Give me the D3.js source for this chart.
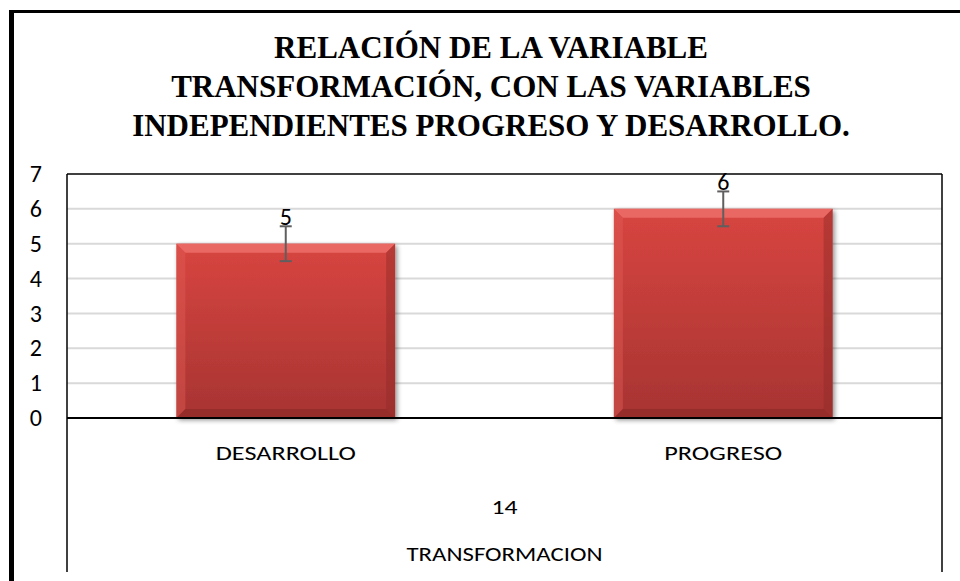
<!DOCTYPE html>
<html>
<head>
<meta charset="utf-8">
<script src="https://cdn.jsdelivr.net/npm/d3@7"></script>
<style>
  body { margin: 0; background: #fff; }
  svg { display: block; }
  .title { font-family: "Liberation Serif", Tinos, "Times New Roman", serif; }
</style>
</head>
<body>
<script>
// data
var categories = ["DESARROLLO", "PROGRESO"];
var values = [5, 6];
var errors = [0.5, 0.5];
var yTicks = [0, 1, 2, 3, 4, 5, 6, 7];
var groupLabel = "14";
var axisTitle = "TRANSFORMACION";
var titleLines = ["RELACIÓN DE LA VARIABLE",
                  "TRANSFORMACIÓN, CON LAS VARIABLES",
                  "INDEPENDIENTES PROGRESO Y DESARROLLO."];

var svgWidth = 960;
var svgHeight = 581;
var plotLeft = 67, plotRight = 942, plotTop = 174, plotBottom = 418;
var labelFont = "Carlito, Calibri, 'Open Sans', sans-serif";

var svg = d3.select("body").append("svg")
    .attr("width", svgWidth)
    .attr("height", svgHeight);

var defs = svg.append("defs");
var grad = defs.append("linearGradient")
    .attr("id", "barGrad")
    .attr("x1", 0).attr("y1", 0).attr("x2", 0).attr("y2", 1);
grad.append("stop").attr("offset", "0%").attr("stop-color", "#d84540");
grad.append("stop").attr("offset", "100%").attr("stop-color", "#a73432");

var shadow = defs.append("filter").attr("id", "shadow")
    .attr("x", "-10%").attr("y", "-10%").attr("width", "125%").attr("height", "125%");
shadow.append("feGaussianBlur").attr("in", "SourceAlpha").attr("stdDeviation", 2.5);
shadow.append("feOffset").attr("dx", 2).attr("dy", 2).attr("result", "b");
shadow.append("feComponentTransfer").append("feFuncA").attr("type", "linear").attr("slope", 0.45);
var merge = shadow.append("feMerge");
merge.append("feMergeNode");
merge.append("feMergeNode").attr("in", "SourceGraphic");

// outer chart border (only left and top visible)
svg.append("line")
    .attr("x1", 11.5).attr("y1", 10).attr("x2", 11.5).attr("y2", svgHeight)
    .attr("stroke", "black").attr("stroke-width", 5);
svg.append("line")
    .attr("x1", 9).attr("y1", 11.5).attr("x2", svgWidth).attr("y2", 11.5)
    .attr("stroke", "black").attr("stroke-width", 3);

// title
svg.append("text")
    .attr("class", "title")
    .attr("x", 491)
    .attr("y", 58)
    .attr("text-anchor", "middle")
    .attr("font-weight", "bold")
    .attr("font-size", 31)
    .selectAll("tspan")
    .data(titleLines)
    .enter().append("tspan")
    .attr("x", 491)
    .attr("dy", function(d, i) { return i == 0 ? 0 : 39; })
    .text(function(d) { return d; });

// scales
var xScale = d3.scaleBand()
    .domain(categories)
    .range([plotLeft, plotRight])
    .paddingInner(0.5)
    .paddingOuter(0.25);
var yScale = d3.scaleLinear()
    .domain([0, 7])
    .range([plotBottom, plotTop]);

// gridlines
svg.append("g")
    .selectAll("line")
    .data(yTicks.filter(function(d) { return d > 0 && d < 7; }))
    .enter().append("line")
    .attr("x1", plotLeft).attr("x2", plotRight)
    .attr("y1", function(d) { return yScale(d); })
    .attr("y2", function(d) { return yScale(d); })
    .attr("stroke", "#d9d9d9")
    .attr("stroke-width", 2);

// y axis
var y_axis = d3.axisLeft(yScale).tickValues(yTicks).tickFormat(d3.format("d")).tickSize(0).tickPadding(0);
var yg = svg.append("g")
    .attr("transform", "translate(42, 0)")
    .call(y_axis);
yg.select(".domain").remove();
yg.selectAll("text")
    .attr("font-family", labelFont)
    .attr("font-size", 24)
    .attr("fill", "black");

// bars
var bars = svg.append("g").selectAll("g")
    .data(values)
    .enter().append("g");

bars.append("rect")
    .attr("x", function(d, i) { return xScale(categories[i]); })
    .attr("y", function(d) { return yScale(d); })
    .attr("width", xScale.bandwidth())
    .attr("height", function(d) { return yScale(0) - yScale(d); })
    .attr("fill", "url(#barGrad)")
    .attr("filter", "url(#shadow)");

// bevel edges
var bev = 9;
function bevel(d, i, side) {
    var x0 = xScale(categories[i]), x1 = x0 + xScale.bandwidth();
    var y0 = yScale(d), y1 = yScale(0);
    var p;
    if (side == "top") p = [[x0, y0], [x1, y0], [x1 - bev, y0 + bev], [x0 + bev, y0 + bev]];
    if (side == "left") p = [[x0, y0], [x0 + bev, y0 + bev], [x0 + bev, y1 - bev], [x0, y1]];
    if (side == "right") p = [[x1, y0], [x1 - bev, y0 + bev], [x1 - bev, y1 - bev], [x1, y1]];
    if (side == "bottom") p = [[x0, y1], [x0 + bev, y1 - bev], [x1 - bev, y1 - bev], [x1, y1]];
    return p.map(function(q) { return q.join(","); }).join(" ");
}
var bevelStyle = [["top", "#ec6c67", 0.9], ["left", "#e15a55", 0.45],
                  ["right", "#8e2a28", 0.45], ["bottom", "#8a2826", 0.6]];
bevelStyle.forEach(function(s) {
    bars.append("polygon")
        .attr("points", function(d, i) { return bevel(d, i, s[0]); })
        .attr("fill", s[1])
        .attr("opacity", s[2]);
});

// error bars
var errColor = "#5f5f5f";
bars.append("line")
    .attr("x1", function(d, i) { return xScale(categories[i]) + xScale.bandwidth() / 2; })
    .attr("x2", function(d, i) { return xScale(categories[i]) + xScale.bandwidth() / 2; })
    .attr("y1", function(d, i) { return yScale(d + errors[i]); })
    .attr("y2", function(d, i) { return yScale(d - errors[i]); })
    .attr("stroke", errColor).attr("stroke-width", 2);
[1, -1].forEach(function(sgn) {
    bars.append("line")
        .attr("x1", function(d, i) { return xScale(categories[i]) + xScale.bandwidth() / 2 - 6; })
        .attr("x2", function(d, i) { return xScale(categories[i]) + xScale.bandwidth() / 2 + 6; })
        .attr("y1", function(d, i) { return yScale(d + sgn * errors[i]); })
        .attr("y2", function(d, i) { return yScale(d + sgn * errors[i]); })
        .attr("stroke", errColor).attr("stroke-width", 2);
});

// value labels
bars.append("text")
    .attr("x", function(d, i) { return xScale(categories[i]) + xScale.bandwidth() / 2; })
    .attr("y", function(d, i) { return yScale(d + errors[i]) - 1; })
    .attr("text-anchor", "middle")
    .attr("font-family", labelFont)
    .attr("font-size", 24)
    .attr("fill", "black")
    .text(function(d) { return d; });

// plot frame
svg.append("line")
    .attr("x1", plotLeft).attr("x2", plotRight)
    .attr("y1", plotTop).attr("y2", plotTop)
    .attr("stroke", "black").attr("stroke-width", 1.5);
svg.append("line")
    .attr("x1", plotLeft).attr("x2", plotRight)
    .attr("y1", plotBottom).attr("y2", plotBottom)
    .attr("stroke", "black").attr("stroke-width", 2);
[plotLeft, plotRight].forEach(function(x) {
    svg.append("line")
        .attr("x1", x).attr("x2", x)
        .attr("y1", plotTop).attr("y2", 572)
        .attr("stroke", "black").attr("stroke-width", 1.5);
});

// category labels (multi-level axis), drawn a little wider than the font
var catWidths = [140, 118];
svg.append("g").selectAll("text")
    .data(categories)
    .enter().append("text")
    .attr("x", function(d) { return xScale(d) + xScale.bandwidth() / 2; })
    .attr("y", 460)
    .attr("text-anchor", "middle")
    .attr("font-family", labelFont)
    .attr("font-size", 20)
    .attr("textLength", function(d, i) { return catWidths[i]; })
    .attr("lengthAdjust", "spacingAndGlyphs")
    .attr("fill", "black")
    .text(function(d) { return d; });

var midX = (plotLeft + plotRight) / 2;
svg.append("text")
    .attr("x", midX).attr("y", 514)
    .attr("text-anchor", "middle")
    .attr("font-family", labelFont)
    .attr("font-size", 20)
    .attr("textLength", 26)
    .attr("lengthAdjust", "spacingAndGlyphs")
    .text(groupLabel);
svg.append("text")
    .attr("x", midX).attr("y", 561)
    .attr("text-anchor", "middle")
    .attr("font-family", labelFont)
    .attr("font-size", 20)
    .attr("textLength", 196)
    .attr("lengthAdjust", "spacingAndGlyphs")
    .text(axisTitle);
</script>
</body>
</html>
